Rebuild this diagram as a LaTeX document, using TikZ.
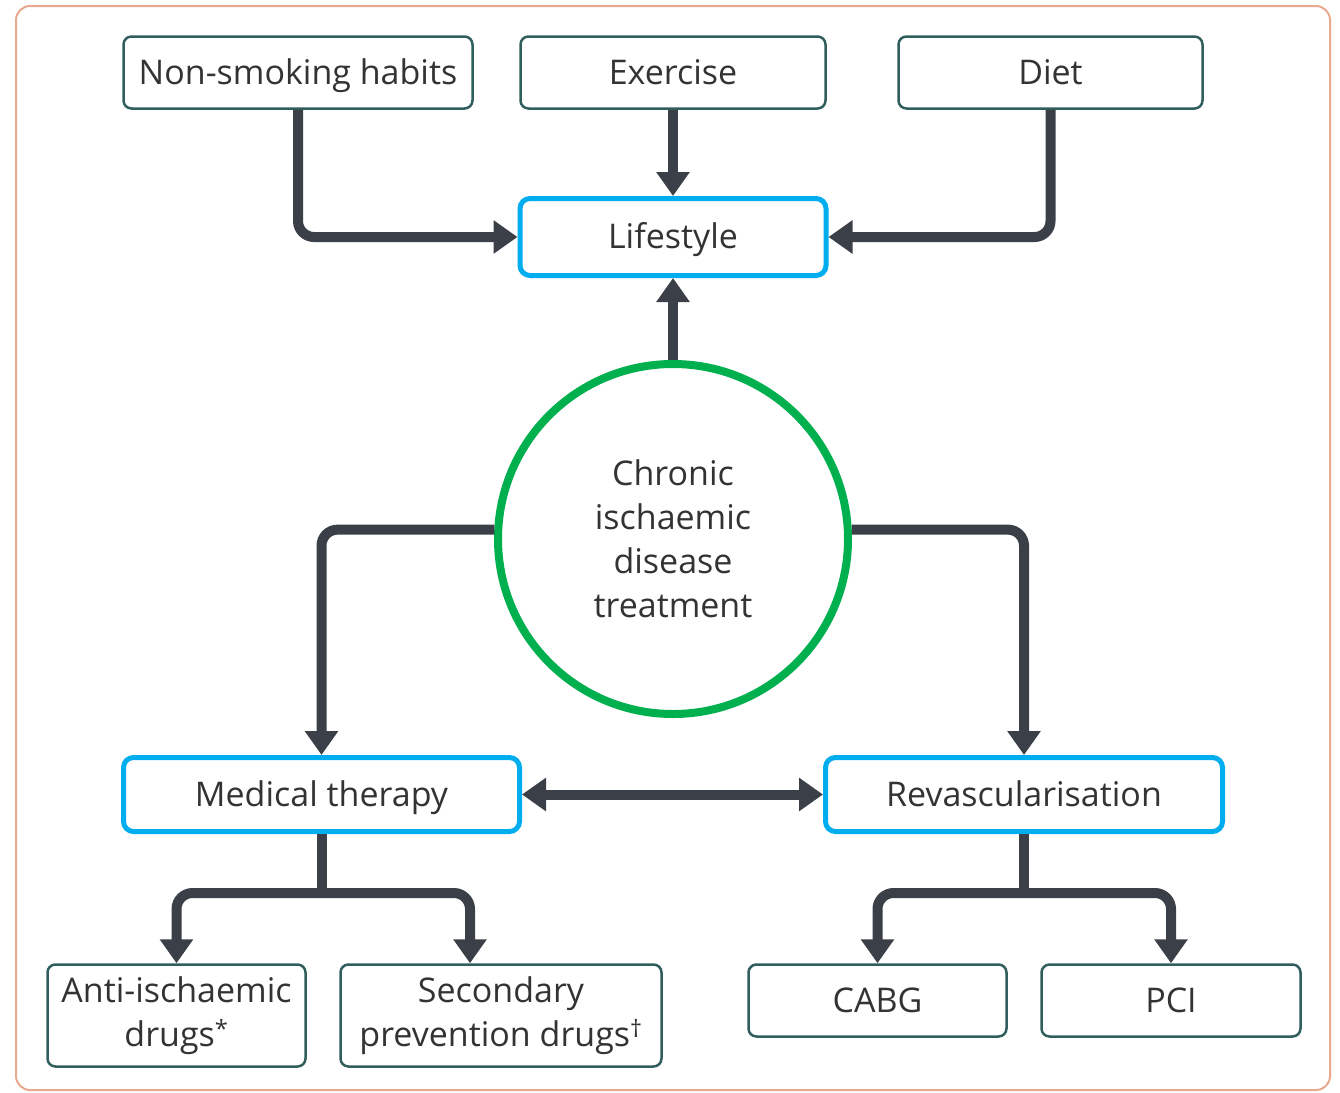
\documentclass[tikz,border=0pt]{standalone}
\usepackage{fontspec}
\setmainfont{Open Sans}
\usetikzlibrary{arrows.meta,calc}
\definecolor{framec}{HTML}{E9A98F}
\definecolor{boxc}{HTML}{2F5E5C}
\definecolor{bluec}{HTML}{00AEEF}
\definecolor{greenc}{HTML}{00B04F}
\definecolor{arrc}{HTML}{3B3F47}
\definecolor{txtc}{HTML}{333333}
\tikzset{
  txtfont/.style={font=\fontsize{34}{44}\selectfont, text=txtc, text height=25pt, text depth=2pt},
  plainbox/.style={draw=boxc, line width=2.5pt, rounded corners=8pt, fill=white, inner sep=0pt, align=center, txtfont},
  bluebox/.style={draw=bluec, line width=5pt, rounded corners=10pt, fill=white, inner sep=0pt, align=center, txtfont},
  conn/.style={draw=arrc, line width=10pt, rounded corners=16pt},
  arr/.style={conn, -{Triangle[length=24pt,width=32pt]}},
  darr/.style={conn, {Triangle[length=24pt,width=32pt]}-{Triangle[length=24pt,width=32pt]}},
}
\begin{document}
\begin{tikzpicture}[x=1pt,y=-1pt]
\useasboundingbox (0,0) rectangle (1340,1092);
\draw[framec, line width=2pt, rounded corners=14pt, fill=white] (16,6) rectangle (1330,1090);

\node[plainbox, minimum width=349pt, minimum height=72pt] (ns) at (298,72.5) {Non-smoking habits};
\node[plainbox, minimum width=305pt, minimum height=72pt] (ex) at (673,72.5) {Exercise};
\node[plainbox, minimum width=304pt, minimum height=72pt] (diet) at (1050.5,72.5) {Diet};
\node[bluebox, minimum width=306pt, minimum height=77pt] (life) at (673,237) {Lifestyle};

\node[circle, draw=greenc, line width=8pt, minimum size=350pt, inner sep=0pt, align=center, txtfont, text height=, text depth=, fill=white] (circ) at (673,539) {Chronic\\ischaemic\\disease\\treatment};

\node[bluebox, minimum width=396pt, minimum height=74pt] (med) at (321.5,794.5) {Medical therapy};
\node[bluebox, minimum width=397pt, minimum height=74pt] (rev) at (1024,794.5) {Revascularisation};

\node[plainbox, minimum width=258pt, minimum height=102pt, text height=, text depth=] (anti) at (176.5,1015.5) {Anti-ischaemic\\drugs\textsuperscript{*}};
\node[plainbox, minimum width=321pt, minimum height=102pt, text height=, text depth=] (sec) at (501,1015.5) {Secondary\\prevention drugs\textsuperscript{\dag}};
\node[plainbox, minimum width=258pt, minimum height=72pt] (cabg) at (877.5,1000.5) {CABG};
\node[plainbox, minimum width=259pt, minimum height=72pt] (pci) at (1171,1000.5) {PCI};

% connectors to Lifestyle
\draw[arr] (ns.south) |- (life.west);
\draw[arr] (ex.south) -- (life.north);
\draw[arr] (diet.south) |- (life.east);
\draw[arr] (circ.north) -- (life.south);

% circle to therapies
\draw[arr] (circ.177) -| (med.north);
\draw[arr] (circ.3) -| (rev.north);
\draw[darr] (med.east) -- (rev.west);

% medical therapy split
\coordinate (mj) at ($(med.south)+(0,59)$);
\draw[conn] (med.south) -- ($(mj)+(0,5)$);
\draw[arr] (mj) -| (anti.north);
\draw[arr] (mj) -| ([xshift=-31pt]sec.north);

% revascularisation split
\coordinate (rj) at ($(rev.south)+(0,59)$);
\draw[conn] (rev.south) -- ($(rj)+(0,5)$);
\draw[arr] (rj) -| (cabg.north);
\draw[arr] (rj) -| (pci.north);
\end{tikzpicture}
\end{document}
